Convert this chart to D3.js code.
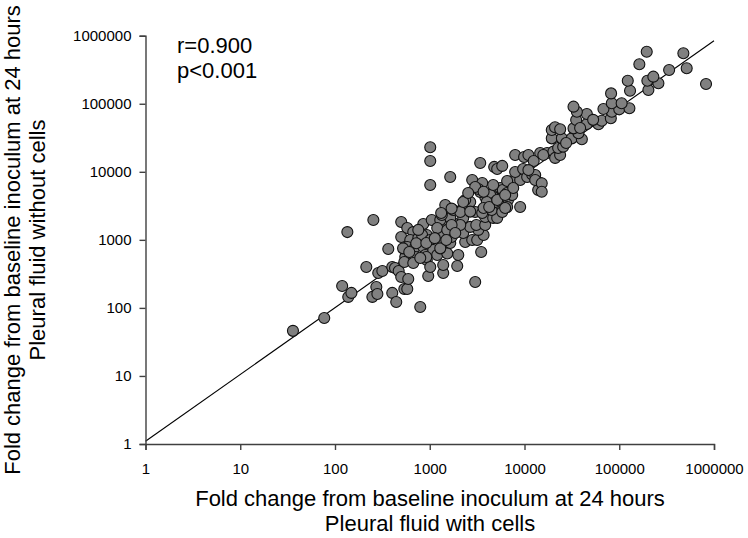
<!DOCTYPE html>
<html><head><meta charset="utf-8">
<script src="https://cdn.jsdelivr.net/npm/d3@7"></script>
<style>body{margin:0;background:#fff}svg{display:block}</style>
</head><body><svg id="c" width="748" height="538"></svg>
<script>
// Fold change, pleural fluid WITH cells (x)
const withCells = [36,77,119,138,149,135,254,214,286,316,273,248,280,365,402,443,794,539,579,402,
430,470,500,593,964,1387,3017,3490,1012,1012,1012,1645,3409,2806,3579,4790,5150,5820,500,579,
670,855,500,623,579,704,855,552,704,897,539,670,930,757,930,1050,830,1012,1291,1089,
1387,1200,1531,1012,1387,2000,1950,1645,1700,2099,1770,1458,1291,1200,1531,2367,2806,3168,2255,3700,
3250,2673,3100,3848,2255,1645,1340,1458,1770,2255,2547,2673,2367,3017,3848,4672,5150,4500,3579,4140,
3848,3409,3250,3017,4780,5540,5900,6560,4672,5820,6700,5300,6560,5820,7410,7060,7970,9000,7970,9680,
10670,12040,12970,14640,13940,12970,9000,7970,9900,11000,14640,17340,12500,6560,4345,4906,4000,3700,15200,15200,
15800,20200,21050,23770,22650,25600,19400,24800,19400,21000,23800,31600,40300,37100,32900,45500,35100,45500,35700,32900,
60300,65400,81500,83400,100000,128000,68100,83400,106000,82000,130000,123000,203000,259000,198000,229000,163000,336000,515000,824000,
195000,475000,720,523,920,1291,2099,1700,2099,1700,1320,2255,2547,3700,4672,6250,2673,
757,920,1130,608,794,1495,1858,4240,5150,7600,6250,11000,27500,38640,53000];
// Fold change, pleural fluid WITHOUT cells (y)
const withoutCells = [46,71,210,145,166,1300,1960,399,326,349,203,145,160,734,166,122,103,190,190,399,
385,349,285,266,294,326,240,663,22900,14400,6400,8390,13500,7570,6840,11800,11000,12200,1830,1490,
1300,1710,1100,995,785,785,785,560,560,599,473,458,506,1060,1180,1960,1180,995,1260,709,
900,599,630,399,428,599,413,900,1100,1550,1770,1650,1960,1490,1400,930,995,995,1260,1180,
1400,1550,1650,1650,2100,2100,2320,3250,2750,2940,3250,3600,3850,2570,2170,2100,2100,2750,2480,3600,
4260,5050,5600,5980,5400,5780,5400,4870,4260,4100,3850,3480,3040,2570,4560,7100,7700,7570,9930,11000,
8390,9130,8980,6840,5400,7570,3040,17700,16500,17700,18900,18900,14400,7330,4560,3600,3600,2940,6780,5100,
17700,19800,16000,17700,22400,23400,31000,31000,41100,45100,42100,31000,30100,36800,43500,50400,57700,70600,76400,90600,
49900,56300,61100,76400,82800,85700,83800,101600,101600,142000,155000,218000,159000,200000,218000,250000,380000,313000,332000,195000,
582000,551000,890,750,560,750,1650,1650,2570,2880,2480,3600,4870,5100,6400,2940,2600,
1400,900,1060,663,541,995,1260,3040,3850,5780,4560,10600,26500,44000,58000];

const tickValues = [1, 10, 100, 1000, 10000, 100000, 1000000];
const tickLabels = ["1", "10", "100", "1000", "10000", "100000", "1000000"];
const fitX = [1, 1000000];
const fitY = [1.1, 845000];
const stats = ["r=0.900", "p<0.001"];
const xTitle = ["Fold change from baseline inoculum at 24 hours", "Pleural fluid with cells"];
const yTitle = ["Fold change from baseline inoculum at 24 hours", "Pleural fluid without cells"];

const FONT = '"Liberation Sans", Arial, Helvetica, sans-serif';
const svg = d3.select("#c");
const x = d3.scaleLog().domain([1, 1e6]).range([145.5, 714]);
const y = d3.scaleLog().domain([1, 1e6]).range([444, 35.7]);

// regression line
svg.append("path")
  .attr("d", d3.line().x(d => x(d[0])).y(d => y(d[1]))(fitX.map((v, i) => [v, fitY[i]])))
  .attr("fill", "none").attr("stroke", "#000").attr("stroke-width", 1.1);

// points
const pts = withCells.map((v, i) => [v, withoutCells[i]]);
svg.append("g").selectAll("circle").data(pts).join("circle")
  .attr("cx", d => x(d[0])).attr("cy", d => y(d[1])).attr("r", 5.5)
  .attr("fill", "#808080").attr("stroke", "#111").attr("stroke-width", 1.1);

// axes
const xa = svg.append("g").attr("transform", "translate(0,444)")
  .call(d3.axisBottom(x).tickValues(tickValues).tickFormat((d, i) => tickLabels[i]).tickSize(6).tickPadding(13));
const ya = svg.append("g").attr("transform", "translate(145.5,0)")
  .call(d3.axisLeft(y).tickValues(tickValues).tickFormat((d, i) => tickLabels[i]).tickSize(6).tickPadding(8));
[xa, ya].forEach(a => {
  a.attr("font-family", FONT).attr("font-size", 15);
  a.selectAll("path,line").attr("stroke", "#404040").attr("stroke-width", 1.4);
  a.selectAll("text").attr("fill", "#000");
});

// stats text
svg.append("g").selectAll("text").data(stats).join("text")
  .attr("x", 177).attr("y", (d, i) => 53 + i * 25)
  .attr("font-family", FONT).attr("font-size", 22).text(d => d);

// x title
svg.append("g").selectAll("text").data(xTitle).join("text")
  .attr("x", 430).attr("y", (d, i) => 506 + i * 25).attr("text-anchor", "middle")
  .attr("font-family", FONT).attr("font-size", 22).text(d => d);

// y title
svg.append("g").selectAll("text").data(yTitle).join("text")
  .attr("transform", (d, i) => `translate(${20 + i * 25},240) rotate(-90)`)
  .attr("text-anchor", "middle")
  .attr("font-family", FONT).attr("font-size", 22).text(d => d);
</script></body></html>
